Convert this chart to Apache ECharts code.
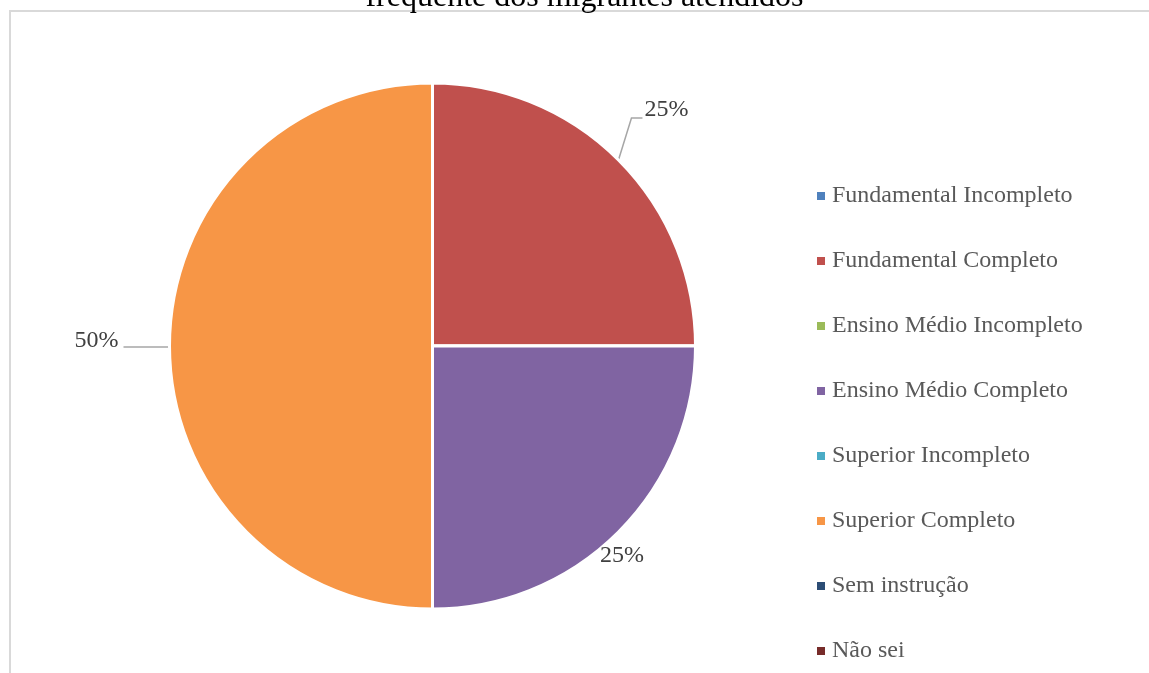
<!DOCTYPE html>
<html>
<head>
<meta charset="utf-8">
<script src="https://cdn.jsdelivr.net/npm/echarts@6/dist/echarts.min.js"></script>
<style>
  html, body { margin: 0; padding: 0; background: #ffffff; overflow: hidden; }
  #chart { width: 1149px; height: 673px; }
</style>
</head>
<body>
<div id="chart"></div>
<script>
// Escolaridade dos migrantes atendidos
const categories = [
  'Fundamental Incompleto',
  'Fundamental Completo',
  'Ensino Médio Incompleto',
  'Ensino Médio Completo',
  'Superior Incompleto',
  'Superior Completo',
  'Sem instrução',
  'Não sei'
];
const values = [0, 25, 0, 25, 0, 50, 0, 0];
const colors = ['#4F81BD', '#C0504D', '#9BBB59', '#8064A2', '#4BACC6', '#F79646', '#2C4D75', '#772C2A'];
const titleText = 'frequente dos migrantes atendidos';

const CX = 432.5, CY = 346, R = 263;
const total = values.reduce((a, b) => a + b, 0);

// point on the rim at the middle of slice i
function midEdge(i) {
  const before = values.slice(0, i).reduce((a, b) => a + b, 0);
  const frac = (before + values[i] / 2) / total;
  const ang = (90 - 360 * frac) * Math.PI / 180;
  return [CX + R * Math.cos(ang), CY - R * Math.sin(ang)];
}

const data = categories.map((name, i) => ({
  name: name,
  value: values[i],
  itemStyle: { color: colors[i] },
  label: { show: values[i] > 0 },
  labelLine: { show: values[i] > 0 && i !== 3 }
}));

const chart = echarts.init(document.getElementById('chart'), null, { renderer: 'canvas' });
chart.setOption({
  backgroundColor: '#ffffff',
  animation: false,
  graphic: [
    {
      // chart-area frame: top edge and left edge
      type: 'line', z: 0, silent: true,
      shape: { x1: 10, y1: 11, x2: 1149, y2: 11 },
      style: { stroke: '#d9d9d9', lineWidth: 2 }
    },
    {
      type: 'line', z: 0, silent: true,
      shape: { x1: 10, y1: 10, x2: 10, y2: 673 },
      style: { stroke: '#d9d9d9', lineWidth: 2 }
    },
    {
      type: 'text', z: 10, silent: true,
      x: 584.5, y: -18,
      style: {
        text: titleText,
        font: '32px "Liberation Serif"',
        fill: '#000000',
        textAlign: 'center',
        textVerticalAlign: 'top'
      }
    }
  ],
  legend: {
    orient: 'vertical',
    left: 812,
    top: 179,
    icon: 'rect',
    itemWidth: 8,
    itemHeight: 8,
    itemGap: 41,
    selectedMode: false,
    data: categories,
    itemStyle: { borderWidth: 0 },
    textStyle: {
      fontFamily: 'Liberation Serif',
      fontSize: 24,
      lineHeight: 24,
      color: '#595959',
      padding: [0, 0, 0, 2]
    }
  },
  series: [{
    type: 'pie',
    center: [CX, CY],
    radius: [0, R],
    startAngle: 90,
    clockwise: true,
    avoidLabelOverlap: false,
    stillShowZeroSum: false,
    itemStyle: { borderColor: '#ffffff', borderWidth: 3 },
    label: {
      show: true,
      position: 'outside',
      formatter: p => Math.round(p.percent) + '%',
      fontFamily: 'Liberation Serif',
      fontSize: 24,
      color: '#404040'
    },
    labelLine: {
      show: true,
      length: 20,
      length2: 10,
      lineStyle: { color: '#a6a6a6', width: 1.5 }
    },
    labelLayout: function (p) {
      const i = p.dataIndex;
      const e = midEdge(i);
      if (i === 1) {
        return {
          x: e[0] + 26, y: e[1] - 50, align: 'left', verticalAlign: 'middle',
          labelLinePoints: [e, [e[0] + 13, e[1] - 42], [e[0] + 24, e[1] - 42]]
        };
      }
      if (i === 3) {
        return { x: e[0] + 3.5, y: e[1] + 24, align: 'center', verticalAlign: 'middle' };
      }
      if (i === 5) {
        return {
          x: e[0] - 51, y: e[1] - 5, align: 'right', verticalAlign: 'middle',
          labelLinePoints: [[e[0], e[1] + 1], [e[0] - 23, e[1] + 1], [e[0] - 46, e[1] + 1]]
        };
      }
      return {};
    },
    data: data
  }]
});
</script>
</body>
</html>
